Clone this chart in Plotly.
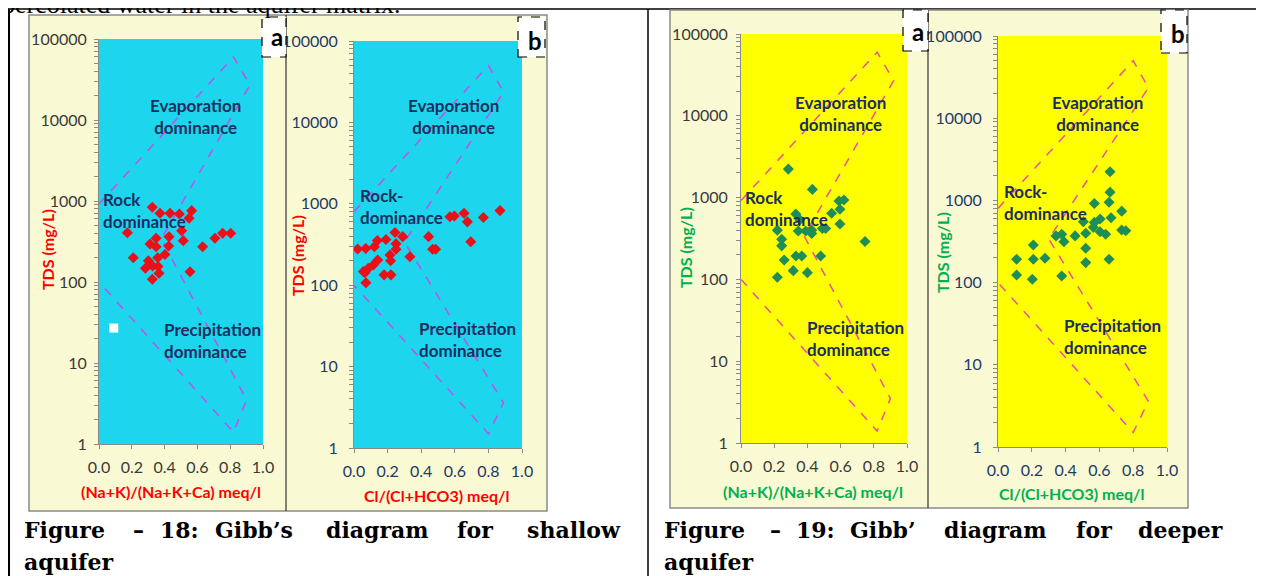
import math
import plotly.graph_objects as go

# ---------------- data ----------------
tds_ticks = [1, 10, 100, 1000, 10000, 100000]
tds_tick_labels = ["1", "10", "100", "1000", "10000", "100000"]
ratio_ticks = [0.0, 0.2, 0.4, 0.6, 0.8, 1.0]
ratio_tick_labels = ["0.0", "0.2", "0.4", "0.6", "0.8", "1.0"]

# Figure 18 (shallow aquifer) - a: cation ratio
shallow_cation_ratio = [0.325, 0.372, 0.433, 0.49, 0.565, 0.549, 0.504, 0.173, 0.348, 0.427,
                        0.514, 0.707, 0.754, 0.803, 0.632, 0.348, 0.311, 0.425, 0.209, 0.301,
                        0.358, 0.402, 0.283, 0.327, 0.366, 0.555, 0.325, 0.36]
shallow_cation_tds = [835, 705, 705, 690, 760, 613, 430, 405, 347, 362,
                      324, 347, 400, 400, 272, 272, 295, 278, 199, 183,
                      199, 219, 148, 158, 128, 134, 108, 155]
# Figure 18 - b: anion ratio
shallow_anion_ratio = [0.022, 0.07, 0.121, 0.139, 0.19, 0.244, 0.29, 0.25, 0.25, 0.214,
                       0.218, 0.141, 0.115, 0.085, 0.056, 0.179, 0.22, 0.333, 0.444, 0.468,
                       0.486, 0.571, 0.597, 0.655, 0.675, 0.695, 0.77, 0.869, 0.065, 0.071]
shallow_anion_tds = [279, 283, 297, 353, 365, 445, 395, 322, 276, 235,
                     200, 204, 177, 161, 147, 134, 134, 224, 395, 276,
                     276, 695, 707, 765, 600, 341, 680, 825, 142, 107]
# stray white marker in figure 18a
stray_ratio = [0.09]
stray_tds = [27]

# Figure 19 (deeper aquifer) - a: cation ratio
deep_cation_ratio = [0.285, 0.43, 0.59, 0.62, 0.596, 0.546, 0.596, 0.33, 0.355, 0.345,
                     0.39, 0.426, 0.426, 0.49, 0.51, 0.219, 0.245, 0.245, 0.747, 0.26,
                     0.331, 0.366, 0.48, 0.315, 0.40, 0.219]
deep_cation_tds = [2230, 1260, 910, 935, 720, 645, 475, 630, 535, 390,
                   390, 400, 365, 420, 420, 400, 310, 257, 290, 173,
                   193, 193, 193, 128, 121, 106]
# Figure 19 - b: anion ratio
deep_anion_ratio = [0.663, 0.663, 0.57, 0.657, 0.732, 0.669, 0.604, 0.505, 0.57, 0.564,
                    0.604, 0.637, 0.732, 0.756, 0.519, 0.456, 0.377, 0.343, 0.39, 0.519,
                    0.209, 0.11, 0.209, 0.278, 0.519, 0.657, 0.11, 0.203, 0.377]
deep_anion_tds = [2230, 1260, 915, 950, 740, 615, 593, 550, 540, 470,
                  415, 387, 437, 428, 398, 370, 387, 370, 315, 262,
                  287, 192, 192, 198, 175, 192, 124, 110, 120]

# Gibbs boundary envelopes
cation_boundary_ratio = [0.0, 0.82, 0.92, 0.38, 0.90, 0.82, 0.0]
cation_boundary_tds = [920, 60000, 27000, 340, 3.5, 1.4, 100]
anion_boundary_ratio = [0.0, 0.80, 0.89, 0.30, 0.89, 0.80, 0.0]
anion_boundary_tds = [800, 50000, 23500, 340, 3.6, 1.5, 100]

# ---------------- layout helpers ----------------
W, H = 1264, 576
OFF = 8  # the page body adds an 8 px margin; compensate so marks land on page pixels


def fx(p):
    return (p - OFF) / W


def fy(p):
    return 1 - (p - OFF) / H


NAVY = "#1B2F5E"
SANS = "Lato"
minor_vals = [m * 10 ** d for d in range(5) for m in range(2, 10)]
y_tickvals = tds_ticks + minor_vals
y_ticktext = tds_tick_labels + [""] * len(minor_vals)

panels = [
    dict(box=(99, 263, 39, 444), bg="#1DD6EE", tick="#3A3A3A", tcol="#FF0000", dash="#C24FE6",
         xs=shallow_cation_ratio, ys=shallow_cation_tds, mc="#EA0F18",
         bx=cation_boundary_ratio, by=cation_boundary_tds,
         xtitle="(Na+K)/(Na+K+Ca) meq/l", xt=(171, 491), yt=(48, 250), ystand=4,
         evap=(0.59, 4.04), rock=(0.012, 2.88), rock_txt="Rock<br>dominance", prec=(0.384, 1.28)),
    dict(box=(354, 522, 41, 448), bg="#1DD6EE", tick="#1F3A68", tcol="#FF0000", dash="#C24FE6",
         xs=shallow_anion_ratio, ys=shallow_anion_tds, mc="#EA0F18",
         bx=anion_boundary_ratio, by=anion_boundary_tds,
         xtitle="Cl/(Cl+HCO3) meq/l", xt=(437, 495), yt=(297, 256), ystand=8,
         evap=(0.59, 4.07), rock=(0.024, 2.97), rock_txt="Rock-<br>dominance", prec=(0.375, 1.33)),
    dict(box=(741, 907, 34, 443), bg="#FFFF00", tick="#3A3A3A", tcol="#00B050", dash="#EE4FA0",
         xs=deep_cation_ratio, ys=deep_cation_tds, mc="#1E8E56",
         bx=cation_boundary_ratio, by=cation_boundary_tds,
         xtitle="(Na+K)/(Na+K+Ca) meq/l", xt=(813, 491), yt=(685, 248), ystand=5,
         evap=(0.60, 4.03), rock=(0.012, 2.87), rock_txt="Rock<br>dominance", prec=(0.386, 1.28)),
    dict(box=(998, 1167, 36, 447), bg="#FFFF00", tick="#1F3A68", tcol="#00B050", dash="#EE4FA0",
         xs=deep_anion_ratio, ys=deep_anion_tds, mc="#1E8E56",
         bx=anion_boundary_ratio, by=anion_boundary_tds,
         xtitle="Cl/(Cl+HCO3) meq/l", xt=(1072, 493), yt=(942, 253), ystand=8,
         evap=(0.59, 4.06), rock=(0.024, 2.97), rock_txt="Rock-<br>dominance", prec=(0.38, 1.35)),
]

fig = go.Figure()
shapes = []
annotations = []

# table lines and chart frames
shapes += [
    dict(type="line", xref="paper", yref="paper", x0=fx(7), x1=fx(1280), y0=fy(9), y1=fy(9),
         line=dict(color="black", width=1.5), layer="below"),
    dict(type="line", xref="paper", yref="paper", x0=fx(9), x1=fx(9), y0=fy(9), y1=fy(600),
         line=dict(color="black", width=2), layer="below"),
    dict(type="line", xref="paper", yref="paper", x0=fx(648), x1=fx(648), y0=fy(9), y1=fy(600),
         line=dict(color="black", width=1.5), layer="below"),
    dict(type="rect", xref="paper", yref="paper", x0=fx(29), x1=fx(547), y0=fy(511), y1=fy(15),
         fillcolor="#F9F9D3", line=dict(color="#8A8A8A", width=1.5), layer="below"),
    dict(type="line", xref="paper", yref="paper", x0=fx(286), x1=fx(286), y0=fy(511), y1=fy(15),
         line=dict(color="#333333", width=1.2), layer="below"),
    dict(type="rect", xref="paper", yref="paper", x0=fx(670), x1=fx(1188), y0=fy(508), y1=fy(10),
         fillcolor="#F9F9D3", line=dict(color="#8A8A8A", width=1.5), layer="below"),
    dict(type="line", xref="paper", yref="paper", x0=fx(928), x1=fx(928), y0=fy(508), y1=fy(10),
         line=dict(color="#333333", width=1.2), layer="below"),
]

for i, p in enumerate(panels):
    n = "" if i == 0 else str(i + 1)
    xr, yr = "x" + n, "y" + n
    x0, x1, y0, y1 = p["box"]
    # plot area background
    shapes.append(dict(type="rect", xref=xr + " domain", yref=yr + " domain", x0=0, x1=1, y0=0, y1=1,
                       fillcolor=p["bg"], line=dict(width=0), layer="below"))
    fig.add_trace(go.Scatter(x=p["bx"], y=p["by"], mode="lines", xaxis=xr, yaxis=yr,
                             line=dict(color=p["dash"], width=1.5, dash="dash"),
                             hoverinfo="skip", showlegend=False))
    fig.add_trace(go.Scatter(x=p["xs"], y=p["ys"], mode="markers", xaxis=xr, yaxis=yr,
                             marker=dict(symbol="diamond", size=8.5, color=p["mc"],
                                         line=dict(width=0)),
                             showlegend=False))
    tf = dict(family=SANS, size=16, color=p["tick"])
    fig.layout["xaxis" + n] = dict(
        domain=[fx(x0), fx(x1)], range=[0, 1], anchor=yr, automargin=False,
        tickvals=ratio_ticks, ticktext=ratio_tick_labels,
        ticks="outside", ticklen=4, tickcolor="#8A8A8A", ticklabelstandoff=5,
        showline=True, linecolor="#8A8A8A", linewidth=1,
        showgrid=False, zeroline=False, tickfont=tf)
    fig.layout["yaxis" + n] = dict(
        domain=[fy(y1), fy(y0)], type="log", range=[0, 5], anchor=xr, automargin=False,
        tickvals=y_tickvals, ticktext=y_ticktext,
        ticks="outside", ticklen=4, tickcolor="#8A8A8A", ticklabelstandoff=p["ystand"],
        showline=True, linecolor="#8A8A8A", linewidth=1,
        showgrid=False, zeroline=False, tickfont=tf)
    # axis titles
    annotations.append(dict(xref="paper", yref="paper", x=fx(p["xt"][0]), y=fy(p["xt"][1]),
                            xanchor="center", yanchor="middle",
                            text="<b>%s</b>" % p["xtitle"], showarrow=False,
                            font=dict(family=SANS, size=16, color=p["tcol"])))
    annotations.append(dict(xref="paper", yref="paper", x=fx(p["yt"][0]), y=fy(p["yt"][1]),
                            xanchor="center", yanchor="middle",
                            text="<b>TDS (mg/L)</b>", showarrow=False, textangle=-90,
                            font=dict(family=SANS, size=16, color=p["tcol"])))
    lf = dict(family=SANS, size=17, color=NAVY)
    annotations.append(dict(xref=xr, yref=yr, x=p["evap"][0], y=p["evap"][1],
                            text="<b>Evaporation<br>dominance</b>", showarrow=False,
                            align="center", xanchor="center", yanchor="middle", font=lf))
    annotations.append(dict(xref=xr, yref=yr, x=p["rock"][0], y=p["rock"][1],
                            text="<b>%s</b>" % p["rock_txt"], showarrow=False,
                            align="left", xanchor="left", yanchor="middle", font=lf))
    annotations.append(dict(xref=xr, yref=yr, x=p["prec"][0], y=p["prec"][1],
                            text="<b>Precipitation<br>dominance</b>", showarrow=False,
                            align="left", xanchor="left", yanchor="middle", font=lf))

# stray white square on figure 18a
fig.add_trace(go.Scatter(x=stray_ratio, y=stray_tds, mode="markers", xaxis="x", yaxis="y",
                         marker=dict(symbol="square", size=9, color="white"), showlegend=False))

# panel letter boxes
letter_boxes = [(262, 286, 17, 57, "a", 277, 36), (518, 545, 17, 57, "b", 535, 40),
                (903, 928, 10, 51, "a", 918, 31), (1161, 1187, 10, 53, "b", 1178, 34)]
for bx0, bx1, by0, by1, letter, lx, ly in letter_boxes:
    shapes.append(dict(type="rect", xref="paper", yref="paper", x0=fx(bx0), x1=fx(bx1),
                       y0=fy(by1), y1=fy(by0), fillcolor="white",
                       line=dict(color="black", width=1.2, dash="dash"), layer="above"))
    annotations.append(dict(xref="paper", yref="paper", x=fx(lx), y=fy(ly), text="<b>%s</b>" % letter,
                            xanchor="center", yanchor="middle",
                            showarrow=False, font=dict(family=SANS, size=24, color="black")))

# document text (clipped at the top edge, as in the page)
annotations.append(dict(xref="paper", yref="paper", x=fx(0), y=fy(21), xanchor="left", yanchor="bottom",
                        text="percolated water in the aquifer matrix.", showarrow=False,
                        font=dict(family="Liberation Serif", size=26, color="black")))
cap_font = dict(family="DejaVu Serif", size=22, color="black")
caption18 = [("Figure", 22), ("–", 131), ("18:", 158), ("Gibb’s", 213), ("diagram", 324),
             ("for", 455), ("shallow", 525)]
caption19 = [("Figure", 662), ("–", 768), ("19:", 794), ("Gibb’", 848), ("diagram", 942),
             ("for", 1074), ("deeper", 1136)]
for word, x in caption18 + caption19:
    annotations.append(dict(xref="paper", yref="paper", x=fx(x), y=fy(530), xanchor="left",
                            yanchor="middle", text="<b>%s</b>" % word, showarrow=False, font=cap_font))
for x in (22, 662):
    annotations.append(dict(xref="paper", yref="paper", x=fx(x), y=fy(562), xanchor="left",
                            yanchor="middle", text="<b>aquifer</b>", showarrow=False, font=cap_font))

fig.update_layout(width=W, height=H, margin=dict(l=0, r=0, t=0, b=0, pad=0, autoexpand=False),
                  paper_bgcolor="white", plot_bgcolor="rgba(0,0,0,0)",
                  shapes=shapes, annotations=annotations, showlegend=False)

fig.write_html("out.html")
